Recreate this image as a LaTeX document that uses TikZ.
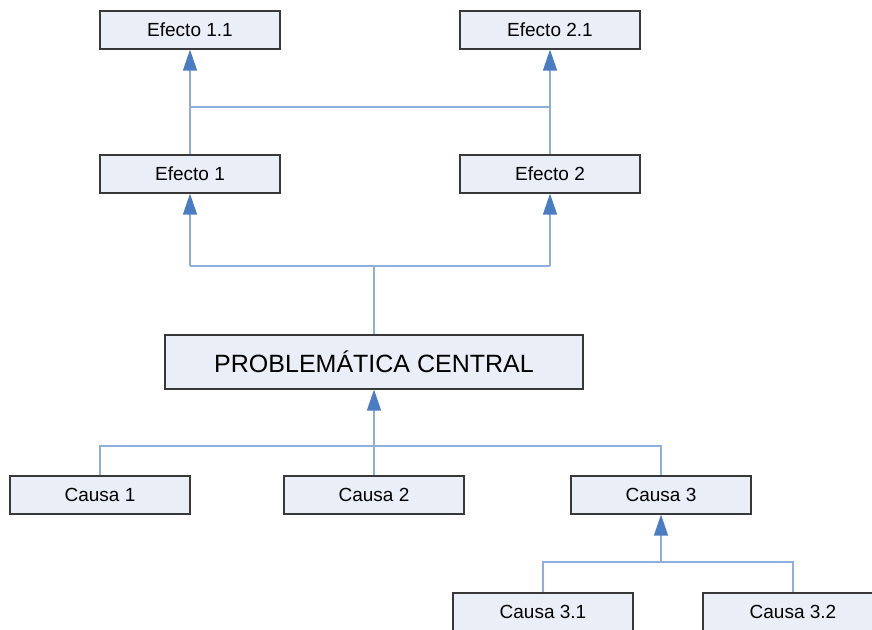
\documentclass[tikz,border=0pt]{standalone}
\usepackage{fontspec}
\setmainfont{Liberation Sans}
\usepackage{tikz}
\usetikzlibrary{arrows.meta, calc}

\definecolor{boxfill}{HTML}{E9EEF7}
\definecolor{boxline}{HTML}{383838}
\definecolor{linkblue}{HTML}{8EAEDC}
\definecolor{tipblue}{HTML}{4A7CC2}

\tikzset{
  box/.style={draw=boxline, fill=boxfill, line width=1.2pt, minimum width=180pt,
    minimum height=38pt, inner sep=0pt, font=\fontsize{19}{22}\selectfont},
  link/.style={draw=linkblue, line width=1.5pt},
  up/.style={link, -{Triangle[length=21pt,width=14pt,color=tipblue]}},
}

\begin{document}
\begin{tikzpicture}[x=1pt, y=-1pt]

 %%Frame
\useasboundingbox (0,0) rectangle (872,629);
\clip (0,0) rectangle (872,629);

 %%Paramaters
%% row positions, can be modified
\def\effTop{30}
\def\effPos{174}
\def\probPos{362}
\def\causePos{495}
\def\subPos{612}

\node[box] (e11) at (190, \effTop) {Efecto 1.1};
\node[box] (e21) at (550, \effTop) {Efecto 2.1};
\node[box] (e1) at (190, \effPos) {Efecto 1};
\node[box] (e2) at (550, \effPos) {Efecto 2};

\node[box, minimum width=418pt, minimum height=54pt, font=\fontsize{25}{30}\selectfont]
  (pc) at (374, \probPos) {PROBLEMÁTICA CENTRAL};

\node[box] (c1) at (100, \causePos) {Causa 1};
\node[box] (c2) at (374, \causePos) {Causa 2};
\node[box] (c3) at (661, \causePos) {Causa 3};
\node[box] (c31) at (543, \subPos) {Causa 3.1};
\node[box] (c32) at (793, \subPos) {Causa 3.2};

 %% ***Efecto 1.1 and Efecto 2.1***
\coordinate (j1) at (190, 107);
\coordinate (j2) at (550, 107);
\draw[link] (e1.north) -- (j1) -- (j2) -- (e2.north);
\draw[up] (j1) -- (e11.south);
\draw[up] (j2) -- (e21.south);

%% Efecto 1 and Efecto 2
\coordinate (k0) at (374, 266);
\coordinate (k1) at (190, 266);
\coordinate (k2) at (550, 266);
\draw[link] (pc.north) -- (k0);
\draw[link] (k1) -- (k2);
\draw[up] (k1) -- (e1.south);
\draw[up] (k2) -- (e2.south);

%% Causas into the central box
\coordinate (c0) at (374, 446);
\coordinate (cl) at (100, 446);
\coordinate (cr) at (661, 446);
\draw[link] (c1.north) -- (cl) -- (cr) -- (c3.north);
\draw[link] (c2.north) -- (c0);
\draw[up] (c0) -- (pc.south);

%% Causa 3.1 and Causa 3.2
\coordinate (d0) at (661, 562);
\coordinate (dl) at (543, 562);
\coordinate (dr) at (793, 562);
\draw[link] (c31.north) -- (dl) -- (dr) -- (c32.north);
\draw[up] (d0) -- (c3.south);

 \end{tikzpicture}
\end{document}
